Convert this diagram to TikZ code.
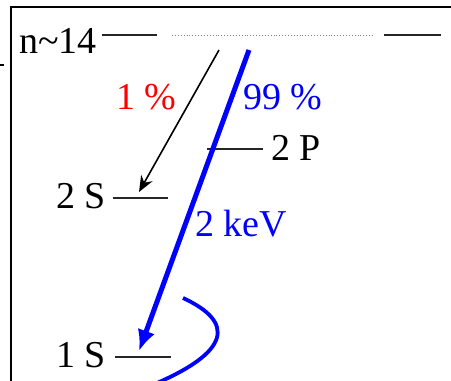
\documentclass[tikz,border=0pt]{standalone}
\usepackage{fontspec}
\setmainfont{Liberation Serif}
\usetikzlibrary{arrows.meta,positioning}

\begin{document}
\begin{tikzpicture}[
    x=1pt, y=-1pt,
    font=\fontsize{38}{42}\selectfont,
    % --- styles ---
    level/.style  = {line width=2pt, black!85},
    lbl/.style    = {inner sep=0pt, anchor=base west},
    frameline/.style = {line width=1.6pt},
    xarrow/.style = {-{Stealth[length=16pt,width=13pt]}, line width=1.6pt},
    karrow/.style = {-{Latex[length=21pt,width=18pt]}, line width=5pt, blue},
]
\useasboundingbox (0,0) rectangle (451,381);

%============ FRAME ============
\coordinate (fr_top) at (460,7);
\coordinate (fr_corner) at (11,7);
\coordinate (fr_bot) at (11,390);
\draw[frameline] (fr_top) -- (fr_corner) -- (fr_bot);
\coordinate (tick_a) at (0,65);
\coordinate (tick_b) at (4,65);
\draw[frameline] (tick_a) -- (tick_b);

%============ LEVELS ============
\node (n14) [lbl] at (19,53) {n\textasciitilde14};
\coordinate (n14_a) at (102,35);
\coordinate (n14_b) at (157,35);
\coordinate (n14_c) at (172,35);
\coordinate (n14_d) at (373,35);
\coordinate (n14_e) at (384,35);
\coordinate (n14_f) at (441,35);
\draw[level] (n14_a) -- (n14_b);
\draw[gray, line width=0.9pt, dotted] (n14_c) -- (n14_d);
\draw[level] (n14_e) -- (n14_f);

\coordinate (p2_a) at (207,149);
\coordinate (p2_b) at (263,149);
\draw[level] (p2_a) -- (p2_b);
\node (p2) [lbl] at (271,160) {2 P};

\coordinate (s2_a) at (113,198);
\coordinate (s2_b) at (168,198);
\draw[level] (s2_a) -- (s2_b);
\node (s2) [lbl] at (56,208) {2 S};

\coordinate (s1_a) at (115,357);
\coordinate (s1_b) at (171,357);
\draw[level] (s1_a) -- (s1_b);
\node (s1) [lbl] at (56,367) {1 S};

%============ TRANSITIONS ============
\coordinate (src_x) at (219,50);
\coordinate (dst_x) at (139,192);
\draw[xarrow] (src_x) -- (dst_x);

\coordinate (src_k) at (249,50);
\coordinate (dst_k) at (139,351);
\draw[karrow] (src_k) -- (dst_k);

% loop round the 1S level
\coordinate (loop_a) at (183,298);
\coordinate (loop_b) at (150,386);
\draw[blue, line width=3.8pt]
  (loop_a) .. controls (235,322) and (232,352) .. (loop_b);

%============ LABELS ============
\node (pct1)  [lbl, red]  at (116,109) {1 \%};
\node (pct99) [lbl, blue] at (243,109) {99 \%};
\node (kev)   [lbl, blue] at (195,236) {2 keV};

\end{tikzpicture}
\end{document}
